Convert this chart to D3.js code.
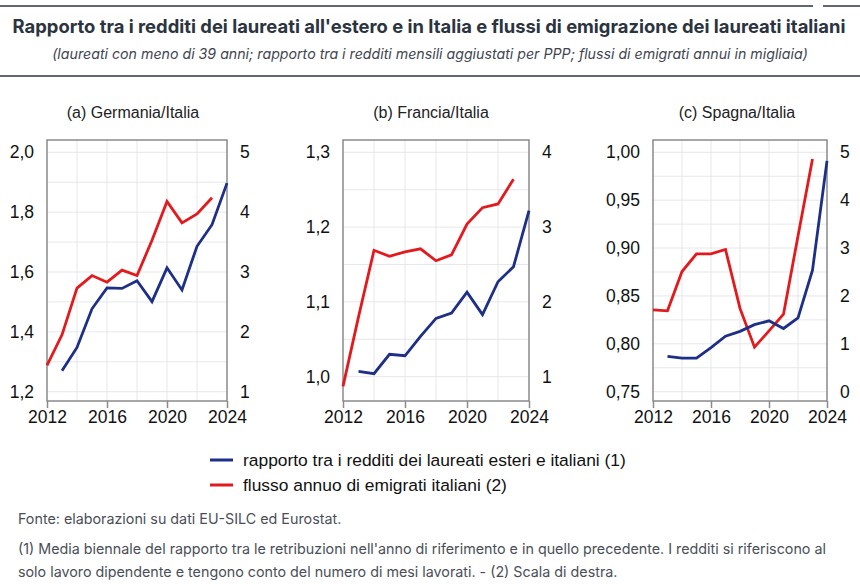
<!DOCTYPE html>
<html>
<head>
<meta charset="utf-8">
<script src="https://cdn.jsdelivr.net/npm/d3@7"></script>
<style>
  body { margin: 0; background: #fff; }
  svg text { font-family: "Liberation Sans", Arial, sans-serif; }
  .title { font-family: Inter, sans-serif; font-weight: 700; fill: #2b3440; }
  .subtitle { font-family: Inter, sans-serif; font-style: italic; fill: #3f4650; }
  .note { font-family: Inter, sans-serif; fill: #4a4f57; }
  .tick text { fill: #111; }
</style>
</head>
<body>
<div id="chart"></div>
<script>
// data
var years = [2012, 2013, 2014, 2015, 2016, 2017, 2018, 2019, 2020, 2021, 2022, 2023, 2024];

var gerRatio = [null, 1.270, 1.348, 1.477, 1.547, 1.545, 1.571, 1.501, 1.614, 1.540, 1.686, 1.758, 1.897];
var gerFlow  = [1.44, 1.95, 2.73, 2.94, 2.83, 3.03, 2.94, 3.53, 4.18, 3.82, 3.97, 4.24, null];

var fraRatio = [null, 1.007, 1.004, 1.030, 1.028, 1.054, 1.078, 1.085, 1.113, 1.083, 1.127, 1.147, 1.222];
var fraFlow  = [0.87, 1.80, 2.69, 2.61, 2.67, 2.71, 2.55, 2.63, 3.04, 3.26, 3.31, 3.64, null];

var spaRatio = [null, 0.787, 0.785, 0.785, 0.796, 0.808, 0.813, 0.820, 0.824, 0.816, 0.827, 0.877, 0.991];
var spaFlow  = [1.71, 1.69, 2.51, 2.88, 2.88, 2.97, 1.74, 0.93, 1.27, 1.62, 3.25, 4.86, null];

var xTicks = [2012, 2016, 2020, 2024];

var panels = [
  {title: "(a) Germania/Italia", ratio: gerRatio, flow: gerFlow,
   leftTicks: [1.2, 1.4, 1.6, 1.8, 2.0], leftFmt: ",.1f", gridStep: 0.1,
   rightTicks: [1, 2, 3, 4, 5]},
  {title: "(b) Francia/Italia", ratio: fraRatio, flow: fraFlow,
   leftTicks: [1.0, 1.1, 1.2, 1.3], leftFmt: ",.1f", gridStep: 0.05,
   rightTicks: [1, 2, 3, 4]},
  {title: "(c) Spagna/Italia", ratio: spaRatio, flow: spaFlow,
   leftTicks: [0.75, 0.80, 0.85, 0.90, 0.95, 1.00], leftFmt: ",.2f", gridStep: 0.025,
   rightTicks: [0, 1, 2, 3, 4, 5]}
];

// layout of the three boxes (lowest tick sits higher in panel b)
var boxes = [
  {x0: 47, x1: 227, cx: 133, tickBottom: 391.7},
  {x0: 343, x1: 529, cx: 431, tickBottom: 376.7},
  {x0: 653, x1: 827, cx: 737, tickBottom: 391.7}
];
var boxTop = 140, boxBottom = 401;
var tickTop = 152.3;

var blue = "#1d2f86", red = "#e3191c";

var italian = d3.formatLocale({decimal: ",", thousands: ".", grouping: [3], currency: ["€", ""]});

var W = 860, H = 584;
var svg = d3.select("#chart").append("svg")
  .attr("width", W).attr("height", H);

// header
svg.append("line").attr("x1", 0).attr("x2", 813).attr("y1", 6).attr("y2", 6)
  .attr("stroke", "#2b3440").attr("stroke-width", 1.5);
svg.append("line").attr("x1", 823).attr("x2", 860).attr("y1", 6).attr("y2", 6)
  .attr("stroke", "#2b3440").attr("stroke-width", 1.5);
svg.append("text").attr("class", "title")
  .attr("x", 429).attr("y", 33).attr("text-anchor", "middle")
  .style("font-size", "18.4px")
  .text("Rapporto tra i redditi dei laureati all'estero e in Italia e flussi di emigrazione dei laureati italiani");
svg.append("text").attr("class", "subtitle")
  .attr("x", 430).attr("y", 59).attr("text-anchor", "middle")
  .style("font-size", "14.2px")
  .text("(laureati con meno di 39 anni; rapporto tra i redditi mensili aggiustati per PPP; flussi di emigrati annui in migliaia)");
svg.append("line").attr("x1", 0).attr("x2", 860).attr("y1", 76).attr("y2", 76)
  .attr("stroke", "#2b3440").attr("stroke-width", 1.5);

panels.forEach(function(p, i) {
  var b = boxes[i];
  var g = svg.append("g");

  var x = d3.scaleLinear().domain([2012, 2024]).range([b.x0, b.x1]);
  var lt = p.leftTicks, rt = p.rightTicks;
  var y = d3.scaleLinear().domain([lt[0], lt[lt.length - 1]]).range([b.tickBottom, tickTop]);
  var y2 = d3.scaleLinear().domain([rt[0], rt[rt.length - 1]]).range([b.tickBottom, tickTop]);

  // grid: half-steps between the labelled ticks, as far as the box goes
  var hGrid = [];
  var start = Math.ceil((y.invert(boxBottom) - 1e-9) / p.gridStep);
  var stop = Math.floor((y.invert(boxTop) + 1e-9) / p.gridStep);
  for (var k = start; k <= stop; k++) hGrid.push(k * p.gridStep);
  hGrid = hGrid.filter(function(d) { return y(d) > boxTop + 2 && y(d) < boxBottom - 2; });
  g.selectAll(".hg").data(hGrid).enter().append("line")
    .attr("x1", b.x0).attr("x2", b.x1)
    .attr("y1", function(d) { return y(d); }).attr("y2", function(d) { return y(d); })
    .attr("stroke", "#e6e7ea").attr("stroke-width", 1);
  g.selectAll(".vg").data(years.filter(function(d) { return d % 2 == 0 && d > 2012 && d < 2024; }))
    .enter().append("line")
    .attr("x1", function(d) { return x(d); }).attr("x2", function(d) { return x(d); })
    .attr("y1", boxTop).attr("y2", boxBottom)
    .attr("stroke", "#e6e7ea").attr("stroke-width", 1);

  // frame
  g.append("rect").attr("x", b.x0).attr("y", boxTop)
    .attr("width", b.x1 - b.x0).attr("height", boxBottom - boxTop)
    .attr("fill", "none").attr("stroke", "#8a8a8a").attr("stroke-width", 1.5);

  // axes
  var xAxis = d3.axisBottom(x).tickValues(xTicks).tickFormat(d3.format("d"))
    .tickSize(7).tickPadding(3);
  g.append("g").attr("class", "x axis")
    .attr("transform", "translate(0," + boxBottom + ")")
    .call(xAxis)
    .call(function(s) { s.select(".domain").remove(); });

  var yAxis = d3.axisLeft(y).tickValues(lt).tickFormat(italian.format(p.leftFmt))
    .tickSize(0).tickPadding(13);
  g.append("g").attr("class", "y axis")
    .attr("transform", "translate(" + b.x0 + ",0)")
    .call(yAxis)
    .call(function(s) { s.select(".domain").remove(); });

  var yAxis2 = d3.axisRight(y2).tickValues(rt).tickFormat(d3.format("d"))
    .tickSize(0).tickPadding(13);
  g.append("g").attr("class", "y2 axis")
    .attr("transform", "translate(" + b.x1 + ",0)")
    .call(yAxis2)
    .call(function(s) { s.select(".domain").remove(); });

  g.selectAll(".axis text").style("font-size", "17.5px").style("font-family", "'Liberation Sans', Arial, sans-serif");
  g.selectAll(".x.axis line").attr("stroke", "#8a8a8a").attr("stroke-width", 1.5);

  // lines
  var lineRatio = d3.line()
    .defined(function(d, k) { return p.ratio[k] != null; })
    .x(function(d) { return x(d); })
    .y(function(d, k) { return y(p.ratio[k]); });
  var lineFlow = d3.line()
    .defined(function(d, k) { return p.flow[k] != null; })
    .x(function(d) { return x(d); })
    .y(function(d, k) { return y2(p.flow[k]); });

  g.append("path").datum(years).attr("d", lineFlow)
    .attr("fill", "none").attr("stroke", red).attr("stroke-width", 2.8)
    .attr("stroke-linejoin", "miter");
  g.append("path").datum(years).attr("d", lineRatio)
    .attr("fill", "none").attr("stroke", blue).attr("stroke-width", 2.8)
    .attr("stroke-linejoin", "miter");

  // panel title
  svg.append("text").attr("x", b.cx).attr("y", 118).attr("text-anchor", "middle")
    .style("font-size", "16px").attr("fill", "#222")
    .text(p.title);
});

// legend
var legendItems = [
  {label: "rapporto tra i redditi dei laureati esteri e italiani (1)", color: blue},
  {label: "flusso annuo di emigrati italiani (2)", color: red}
];
var leg = svg.append("g");
legendItems.forEach(function(d, i) {
  var yy = 460 + i * 25;
  leg.append("line").attr("x1", 210).attr("x2", 233).attr("y1", yy).attr("y2", yy)
    .attr("stroke", d.color).attr("stroke-width", 3);
  leg.append("text").attr("x", 243).attr("y", yy + 6)
    .style("font-size", "17.4px").attr("fill", "#111")
    .text(d.label);
});

// notes
var notes = [
  {y: 524, t: "Fonte: elaborazioni su dati EU-SILC ed Eurostat."},
  {y: 554, t: "(1) Media biennale del rapporto tra le retribuzioni nell'anno di riferimento e in quello precedente. I redditi si riferiscono al"},
  {y: 577, t: "solo lavoro dipendente e tengono conto del numero di mesi lavorati. - (2) Scala di destra."}
];
svg.selectAll(".note").data(notes).enter().append("text")
  .attr("class", "note").attr("x", 18).attr("y", function(d) { return d.y; })
  .style("font-size", "14.3px")
  .text(function(d) { return d.t; });
</script>
</body>
</html>
